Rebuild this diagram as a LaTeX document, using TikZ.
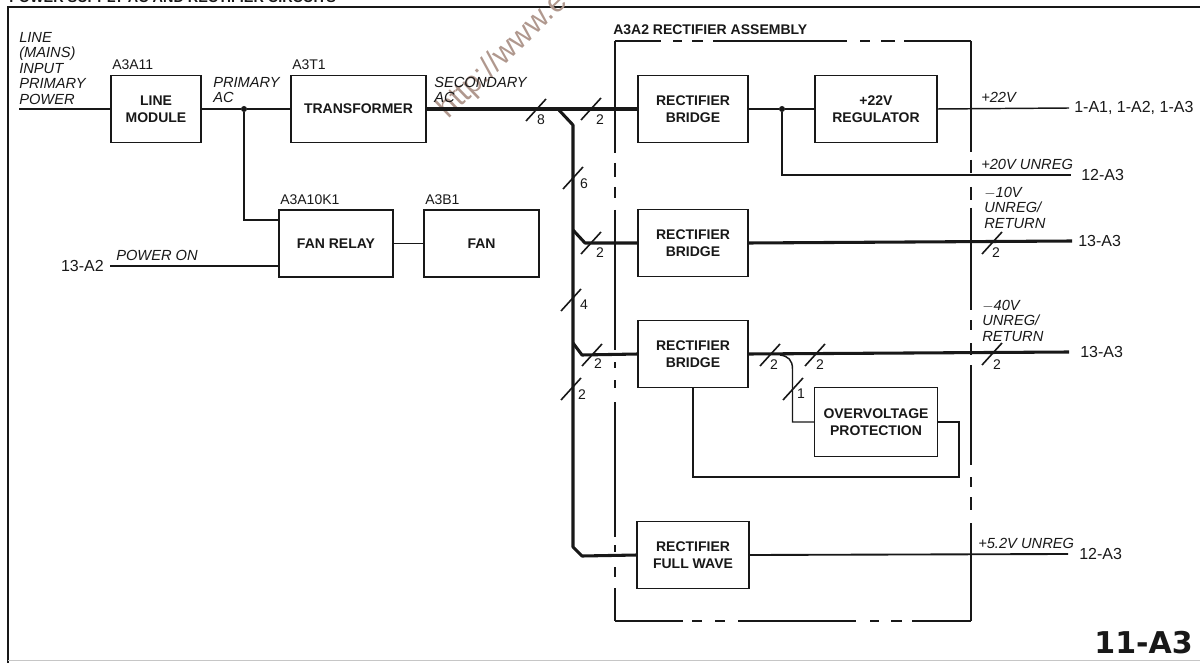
\documentclass[tikz,border=0pt]{standalone}
\usepackage{fontspec}
\setmainfont{Liberation Sans}
\newfontfamily\idfont{DejaVu Sans}
\usetikzlibrary{positioning}
\definecolor{ink}{RGB}{24,24,24}
\definecolor{wmark}{RGB}{176,152,142}
\tikzset{
  blk/.style={rectangle, draw=ink, line width=1.1pt, outer sep=0pt, inner sep=0pt,
              minimum height=50.25pt, align=center,
              font=\fontsize{10.5pt}{12.4pt}\selectfont\bfseries, text=ink},
  % fios simples e barramentos
  wire/.style={draw=ink, line width=1.1pt},
  bus/.style={draw=ink, line width=2.3pt, line join=round},
  asm/.style={draw=ink, line width=1.8pt},
  slash/.style={draw=ink, line width=1.2pt},
  junc/.style={circle, fill=ink, inner sep=0pt, minimum size=4.5pt},
  tag/.style={font=\fontsize{10.5pt}{12pt}\selectfont, text=ink, inner sep=0pt},
  note/.style={font=\fontsize{11pt}{11.6pt}\selectfont\itshape, text=ink, inner sep=0pt, align=left},
  port/.style={font=\fontsize{12pt}{14pt}\selectfont, text=ink, inner sep=0pt},
  num/.style={font=\fontsize{10.5pt}{12pt}\selectfont, text=ink, inner sep=0pt}
}
\begin{document}
\begin{tikzpicture}[x=0.75pt, y=-0.75pt]
  \useasboundingbox (0,0) rectangle (1200,663);
  % moldura
  \draw[ink, line width=1.5pt] (1200,7) -- (8,7) -- (8,663);
  \draw[gray!45, line width=0.6pt] (8,660) -- (1200,660);
  \node[tag, font=\fontsize{10.8pt}{12pt}\selectfont\bfseries, anchor=base west] (title) at (9,3) {POWER SUPPLY AC AND RECTIFIER CIRCUITS};
  \node[wmark, font=\fontsize{23pt}{25pt}\selectfont, rotate=44, anchor=base west, inner sep=0pt] (wm) at (448,120) {http://www.e};

  % blocos
  \node[blk, anchor=north west, minimum width=67.5pt] (linemod) at (111,75.5) {LINE\\MODULE};
  \node[blk, right=67.5pt of linemod, minimum width=101.25pt] (xfmr) {TRANSFORMER};
  \node[blk, anchor=north west, minimum width=85.5pt] (fanrly) at (279,210) {FAN RELAY};
  \node[blk, right=23.25pt of fanrly, minimum width=86.25pt] (fan) {FAN};
  \node[blk, right=159pt of xfmr, minimum width=82.5pt] (rb1) {RECTIFIER\\BRIDGE};
  \node[blk, right=50.25pt of rb1, minimum width=91.5pt] (reg) {+22V\\REGULATOR};
  \node[blk, below=50.25pt of rb1, minimum width=82.5pt] (rb2) {RECTIFIER\\BRIDGE};
  \node[blk, below=33pt of rb2, minimum width=82.5pt] (rb3) {RECTIFIER\\BRIDGE};
  \node[blk, below=100.5pt of rb3, minimum width=84pt] (fwv) {RECTIFIER\\FULL WAVE};
  \node[blk, below=183.75pt of reg, minimum width=92.25pt, minimum height=51.75pt] (ovp) {OVERVOLTAGE\\PROTECTION};

  % conjunto A3A2, tracejado a mao
  \foreach \xa/\xb in {615/661, 673/682, 692/703, 713/847, 860/870, 881/895, 904/971}
    \draw[asm] (\xa,41) -- (\xb,41);
  \foreach \xa/\xb in {615/683, 692/702, 715/725, 738/856, 870/879, 891/902, 912/971}
    \draw[asm] (\xa,621) -- (\xb,621);
  \foreach \ya/\yb in {41/153, 163/177, 187/198, 210/350, 362/368, 380/388, 402/537, 545/552, 567/577, 588/621}
    \draw[asm] (615,\ya) -- (615,\yb);
  \foreach \ya/\yb in {41/152, 160/173, 187/200, 208/310, 320/330, 343/355, 365/465, 477/487, 497/510, 523/621}
    \draw[asm] (971,\ya) -- (971,\yb);
  \node[tag, font=\fontsize{10.5pt}{12pt}\selectfont\bfseries, anchor=west] (asmlbl) at (613,30) {A3A2 RECTIFIER ASSEMBLY};

  % etiquetas dos blocos
  \node[tag, above right=4pt and 0.75pt of linemod.north west] (a3a11) {A3A11};
  \node[tag, above right=4pt and 0.75pt of xfmr.north west] (a3t1) {A3T1};
  \node[tag, above right=4pt and 0.75pt of fanrly.north west] (a3a10) {A3A10K1};
  \node[tag, above right=4pt and 0.75pt of fan.north west] (a3b1) {A3B1};

  % pontos livres e dobras
  \coordinate (inp) at (19,109);
  \coordinate (pwr) at (110,266);
  \coordinate (e22) at (1069,108);
  \coordinate (e20) at (1071,175);
  \coordinate (e10) at (1072,241);
  \coordinate (e40) at (1069,352);
  \coordinate (e52) at (1068,554);
  \coordinate (tap) at (558,109);
  \coordinate (bus1) at (573,125);
  \coordinate (bus2) at (573,547);
  \coordinate (bus3) at (582,556);
  \coordinate (tap2) at (573,230);
  \coordinate (bnd2) at (585,243);
  \coordinate (tap3) at (573,343);
  \coordinate (bnd3) at (582,355);
  \coordinate (tapb) at (780,355);
  \coordinate (ovb) at (792.5,369);
  \coordinate (fbk) at (959,477);
  \node[junc] (j1) at (244,109) {};
  \node[junc] (j2) at (782,109) {};

  \node[port, left=4.5pt of pwr] (p13a2) {13-A2};
  \node[port, right=3.75pt of e22] (p1a1) {1-A1, 1-A2, 1-A3};
  \node[port, right=7.5pt of e20] (p20) {12-A3};
  \node[port, right=4.5pt of e10] (p10) {13-A3};
  \node[port, right=8.25pt of e40] (p40) {13-A3};
  \node[port, right=8.25pt of e52] (p52) {12-A3};

  % ligacoes
  \draw[wire] (inp) -- (linemod.west);
  \draw[wire, line width=1.4pt] (linemod.east) -- (j1) -- (xfmr.west);
  \draw[wire] (j1) |- ([yshift=-7.5pt]fanrly.north west);
  \draw[wire] (pwr) -- ([yshift=-42pt]fanrly.north west);
  \draw[wire, line width=1.4pt] (fanrly.east) -- (fan.west);
  \draw[bus] (xfmr.east) -- (rb1.west);
  \draw[bus] (tap) -- (bus1) -- (bus2) -- (bus3) -- (fwv.west);
  \draw[bus] (tap2) -- (bnd2) -- (rb2.west);
  \draw[bus] (tap3) -- (bnd3) -- (rb3.west);
  \draw[wire] (rb1.east) -- (j2) -- (reg.west);
  \draw[wire] (j2) |- (e20);
  \draw[wire] (reg.east) -- (e22);
  \draw[bus] (rb2.east) -- (e10);
  \draw[bus] (rb3.east) -- (e40);
  \draw[wire] (tapb) .. controls (788,356) and (792.5,360) .. (ovb) |- (ovp.west);
  \draw[wire] (ovp.east) -| (fbk) -| (rb3.south);
  \draw[wire, line width=1.4pt] (fwv.east) -- (e52);

  % contagem de fios
  \foreach \sx/\sy/\lx/\ly/\txt [count=\i] in {536/110/541/120/8, 591/109/600/120/2, 573/178/584/184/6,
      591/243/600/253/2, 571/300/584/305/4, 592/355/598/364/2, 571/389/582/395/2,
      770/355/774/365/2, 815/355/820/365/2, 793/389/801/394/1, 992/354/997/365/2, 992/243/996/253/2} {
    \draw[slash] (\sx,\sy) ++(-10,11) -- ++(20,-22);
    \node[num] (cnt\i) at (\lx,\ly) {\txt};
  }

  % textos em italico
  \node[note, anchor=north west] (mains) at (19,32) {LINE\\(MAINS)\\INPUT\\PRIMARY\\POWER};
  \node[note, anchor=north west] (pac) at (213,77) {PRIMARY\\AC};
  \node[note, anchor=north west] (sac) at (434,77) {SECONDARY\\AC};
  \node[note, anchor=west] (pon) at (116,255) {POWER ON};
  \node[note, anchor=west] (v22) at (981,97) {+22V};
  \node[note, anchor=west] (v20) at (981,164) {+20V UNREG};
  \node[note, anchor=north west] (v10) at (984,187) {$-$10V\\UNREG/\\RETURN};
  \node[note, anchor=north west] (v40) at (982,300) {$-$40V\\UNREG/\\RETURN};
  \node[note, anchor=west] (v52) at (978,543) {+5.2V UNREG};

  \node[font=\idfont\fontsize{22.5pt}{24pt}\selectfont\bfseries, text=ink, inner sep=0pt, anchor=east] (sheet) at (1193,643) {11-A3};
\end{tikzpicture}
\end{document}
